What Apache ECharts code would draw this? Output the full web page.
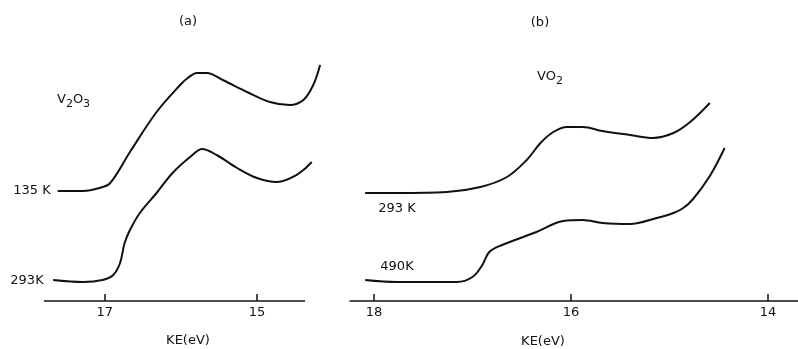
<!DOCTYPE html>
<html><head><meta charset="utf-8">
<script src="https://cdn.jsdelivr.net/npm/echarts@6/dist/echarts.min.js"></script>
<style>html,body{margin:0;padding:0;background:#fff}#c{width:798px;height:349px}</style>
</head><body><div id="c"></div>
<script>
// Panel (a) V2O3
const keA135 = [17.62,17.29,17.07,16.93,16.67,16.32,16.01,15.91,15.79,15.66,15.45,15.13,14.83,14.57,14.39,14.26,14.17];
const inA135 = [110,110,113,118,149,189,216,223,228,228,221,209,199,196,201,216,236];
const keA293 = [17.68,17.29,17.03,16.89,16.80,16.74,16.67,16.54,16.32,16.11,15.88,15.72,15.53,15.26,15.00,14.74,14.53,14.39,14.28];
const inA293 = [21,19,21,26,38,58,71,88,108,128,144,152,146,133,123,119,124,131,139];
// Panel (b) VO2
const keB293 = [18.09,17.77,17.26,16.92,16.65,16.45,16.31,16.18,16.04,15.88,15.68,15.40,15.17,14.96,14.79,14.59];
const inB293 = [108,108,109,114,124,141,158,169,174,174,170,166,163,168,179,198];
const keB490 = [18.09,17.77,17.43,17.16,17.00,16.90,16.83,16.70,16.35,16.08,15.88,15.68,15.40,15.13,14.96,14.86,14.76,14.59,14.44];
const inB490 = [21,19,19,19,24,36,49,56,69,80,81,78,77,83,88,93,102,125,153];
// Tick labels
const ticksA = [17, 15];
const ticksB = [18, 16, 14];
const panelTitles = ['(a)', '(b)'];
const axisTitle = 'KE(eV)';

const FONT = 'DejaVu Sans';
const zip = (a, b) => a.map((v, i) => [v, b[i]]);

function xAxisCfg(idx, min, max, ticks, showLine) {
  return {
    type: 'value', gridIndex: idx, inverse: true, min: min, max: max,
    axisLine: { show: showLine, onZero: false, lineStyle: { color: '#111', width: 1.5 } },
    axisTick: { show: true, inside: true, length: 7, lineStyle: { color: '#111', width: 1.5 }, customValues: ticks },
    axisLabel: { show: true, margin: 5, color: '#111', fontFamily: FONT, fontSize: 13, customValues: ticks },
    splitLine: { show: false }
  };
}
function yAxisCfg(idx) {
  return { type: 'value', gridIndex: idx, min: 0, max: 300, show: false, splitLine: { show: false } };
}
function line(xi, data) {
  return {
    type: 'line', xAxisIndex: xi, yAxisIndex: xi, data: data, smooth: 0.35,
    showSymbol: false, clip: false, lineStyle: { color: '#111', width: 2 }, silent: true
  };
}
function txt(x, y, t) {
  return {
    type: 'text', x: x, y: y,
    style: { text: t, fill: '#111', font: '13px "' + FONT + '"', align: 'center', verticalAlign: 'middle' }
  };
}

const chart = echarts.init(document.getElementById('c'), null, { renderer: 'canvas' });
chart.setOption({
  animation: false,
  backgroundColor: '#fff',
  grid: [
    { left: 44, width: 285, top: 1, height: 300 },
    { left: 350, width: 448, top: 1, height: 300 }
  ],
  xAxis: [xAxisCfg(0, 14.053, 17.80, ticksA, false), xAxisCfg(1, 13.695, 18.244, ticksB, true)],
  yAxis: [yAxisCfg(0), yAxisCfg(1)],
  series: [
    line(0, zip(keA135, inA135)),
    line(0, zip(keA293, inA293)),
    line(1, zip(keB293, inB293)),
    line(1, zip(keB490, inB490))
  ],
  graphic: [
    { type: 'line', shape: { x1: 44, y1: 301, x2: 305, y2: 301 }, style: { stroke: '#111', lineWidth: 1.5 } },
    txt(188, 22, panelTitles[0]),
    txt(540, 23, panelTitles[1]),
    txt(188, 341, axisTitle),
    txt(543, 342, axisTitle),
    txt(32, 191, '135 K'),
    txt(27, 281, '293K'),
    txt(397, 209, '293 K'),
    txt(397, 267, '490K'),
    { type: 'text', x: 57, y: 100, style: {
        text: '{n|V}{s|2}{n|O}{s|3}', fill: '#111', verticalAlign: 'middle',
        rich: { n: { font: '13px "' + FONT + '"', fill: '#111' },
                s: { font: '11px "' + FONT + '"', fill: '#111', padding: [8, 0, 0, 0] } } } },
    { type: 'text', x: 537, y: 77, style: {
        text: '{n|VO}{s|2}', fill: '#111', verticalAlign: 'middle',
        rich: { n: { font: '13px "' + FONT + '"', fill: '#111' },
                s: { font: '11px "' + FONT + '"', fill: '#111', padding: [8, 0, 0, 0] } } } }
  ]
});
</script></body></html>
